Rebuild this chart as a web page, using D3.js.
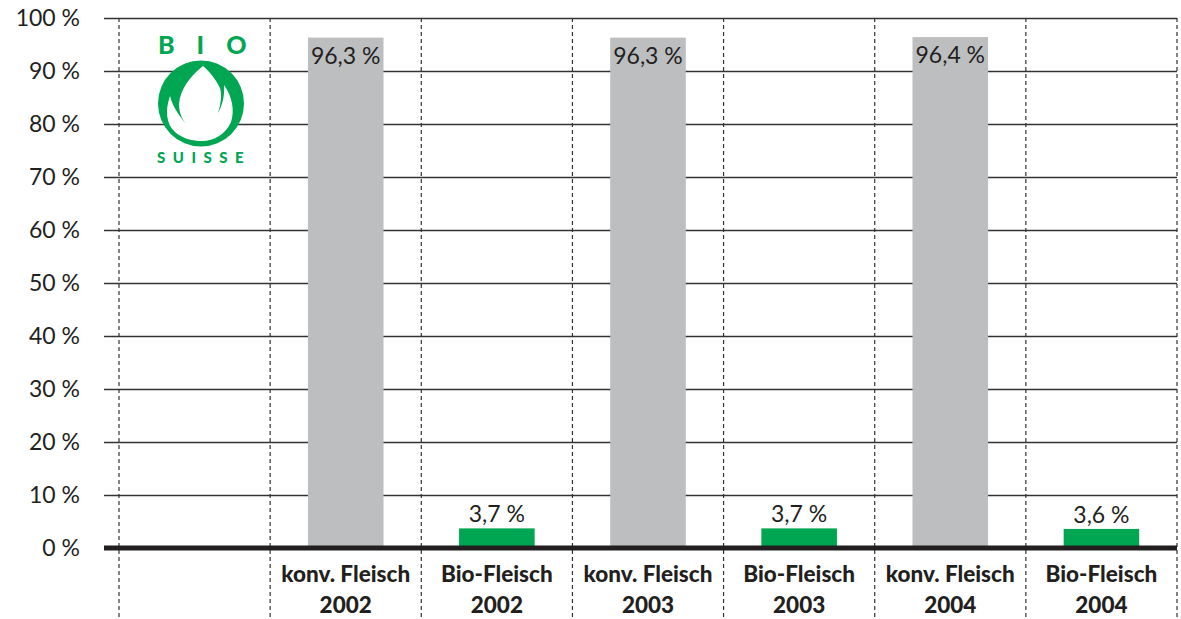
<!DOCTYPE html>
<html>
<head>
<meta charset="utf-8">
<script src="https://cdn.jsdelivr.net/npm/d3@7"></script>
<style>
  body { margin: 0; background: #fff; }
  svg { display: block; font-family: Lato, "Open Sans", sans-serif; }
</style>
</head>
<body>
<svg id="chart"></svg>
<script>
// categories (first column is empty, holds the logo)
const categories = ['', 'konv2002', 'bio2002', 'konv2003', 'bio2003', 'konv2004', 'bio2004'];
const labelLines = [[], ['konv. Fleisch', '2002'], ['Bio-Fleisch', '2002'], ['konv. Fleisch', '2003'],
  ['Bio-Fleisch', '2003'], ['konv. Fleisch', '2004'], ['Bio-Fleisch', '2004']];
const values = [null, 96.3, 3.7, 96.3, 3.7, 96.4, 3.6];
const valueLabels = ['', '96,3 %', '3,7 %', '96,3 %', '3,7 %', '96,4 %', '3,6 %'];
const kinds = ['', 'konv', 'bio', 'konv', 'bio', 'konv', 'bio'];
const yTicks = [0, 10, 20, 30, 40, 50, 60, 70, 80, 90, 100];

const width = 1181, height = 619;
const margin = { top: 18, right: 4, bottom: 71, left: 119 };
const gridLeft = 104;
const colors = { konv: '#bcbec0', bio: '#00a651', text: '#231f20' };

const svg = d3.select('#chart')
  .attr('width', width)
  .attr('height', height);

const x = d3.scaleBand()
  .domain(categories)
  .range([margin.left, width - margin.right])
  .paddingInner(0)
  .paddingOuter(0);

const y = d3.scaleLinear()
  .domain([0, 100])
  .range([height - margin.bottom, margin.top]);

// horizontal gridlines + y labels
const yAxis = (g) => g
  .attr('transform', `translate(${gridLeft},0)`)
  .call(d3.axisLeft(y)
    .tickValues(yTicks)
    .tickSize(-(width - margin.right - gridLeft))
    .tickPadding(24)
    .tickFormat((d) => `${d} %`))
  .attr('font-family', null)
  .attr('font-size', 23)
  .call((g) => g.select('.domain').remove())
  .call((g) => g.selectAll('.tick line')
    .attr('stroke', '#333')
    .attr('stroke-width', 1.5))
  .call((g) => g.selectAll('.tick text')
    .attr('fill', colors.text)
    .attr('font-weight', 400));

svg.append('g').call(yAxis);

// dashed column separators
const seps = categories.map((c) => x(c)).concat([x.range()[1]]);
svg.append('g')
  .selectAll('line')
  .data(seps)
  .join('line')
  .attr('x1', (d) => d)
  .attr('x2', (d) => d)
  .attr('y1', margin.top)
  .attr('y2', height)
  .attr('stroke', '#333')
  .attr('stroke-width', 1.2)
  .attr('stroke-dasharray', '4,3');

// bars
const bw = x.bandwidth() * 0.5;
const cols = categories.map((c, i) => ({ c, v: values[i], label: valueLabels[i], kind: kinds[i], lines: labelLines[i] }))
  .filter((d) => d.v !== null);

svg.append('g')
  .selectAll('rect')
  .data(cols)
  .join('rect')
  .attr('x', (d) => x(d.c) + (x.bandwidth() - bw) / 2)
  .attr('y', (d) => y(d.v))
  .attr('width', bw)
  .attr('height', (d) => y(0) - y(d.v))
  .attr('fill', (d) => colors[d.kind]);

// value labels
svg.append('g')
  .selectAll('text')
  .data(cols)
  .join('text')
  .attr('x', (d) => x(d.c) + x.bandwidth() / 2)
  .attr('y', (d) => (d.v > 50 ? y(d.v) + 26 : y(d.v) - 6))
  .attr('text-anchor', 'middle')
  .attr('font-size', 23)
  .attr('font-weight', 400)
  .attr('fill', colors.text)
  .text((d) => d.label);

// zero line
svg.append('line')
  .attr('x1', gridLeft)
  .attr('x2', width - margin.right)
  .attr('y1', y(0))
  .attr('y2', y(0))
  .attr('stroke', colors.text)
  .attr('stroke-width', 5);

// category labels
const cat = svg.append('g')
  .selectAll('text')
  .data(cols)
  .join('text')
  .attr('text-anchor', 'middle')
  .attr('font-size', 22.5)
  .attr('font-weight', 900)
  .attr('fill', colors.text);

cat.selectAll('tspan')
  .data((d) => d.lines.map((t) => ({ t, cx: x(d.c) + x.bandwidth() / 2 })))
  .join('tspan')
  .attr('x', (d) => d.cx)
  .attr('y', (d, i) => 582 + i * 31)
  .text((d) => d.t);

// Bio Suisse logo
const logo = svg.append('g');
const green = colors.bio;
logo.append('text')
  .attr('x', 158).attr('y', 54)
  .attr('font-size', 25).attr('font-weight', 900)
  .attr('letter-spacing', 22)
  .attr('fill', green)
  .text('BIO');
logo.append('circle')
  .attr('cx', 201).attr('cy', 103.5).attr('r', 43)
  .attr('fill', green);
logo.append('path')
  .attr('d', 'M203,66 C190,76 180,90 179,104 C179,114 183,121 188,126 '
    + 'C181,118 173,108 170,96 C165,110 166,124 175,132 C183,139 193,141 202,141 '
    + 'C214,141 226,134 231,122 C235,110 232,96 224,85 C225,96 222,106 218,113 '
    + 'C221,104 222,94 220,88 C215,78 209,71 203,66 Z')
  .attr('fill', '#fff');
logo.append('text')
  .attr('x', 157).attr('y', 163)
  .attr('font-size', 15).attr('font-weight', 900)
  .attr('letter-spacing', 7.5)
  .attr('fill', green)
  .text('SUISSE');
</script>
</body>
</html>
